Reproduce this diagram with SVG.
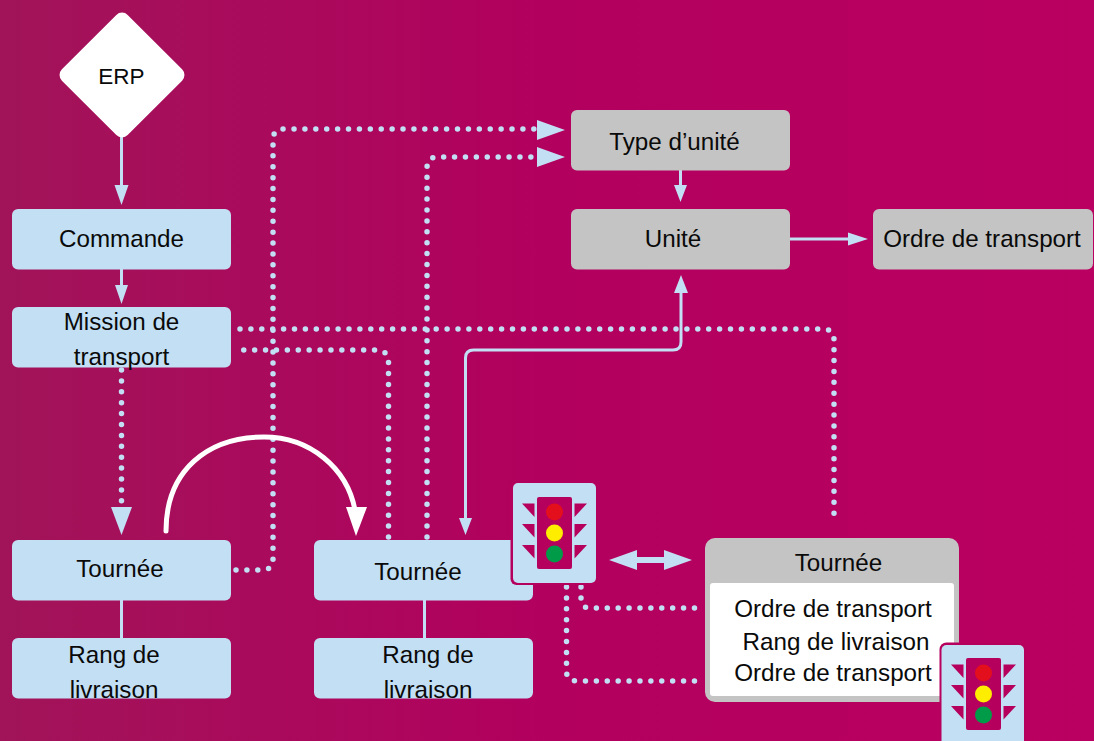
<svg xmlns="http://www.w3.org/2000/svg" width="1094" height="741" viewBox="0 0 1094 741">
<style>
.blue{fill:#c2dff4}
.grey{fill:#c4c4c4}
text{font-family:"Liberation Sans",Arial,sans-serif;font-size:24.200px;fill:#0a0a0a;text-anchor:middle}
.dot{fill:none;stroke:#c2dff4;stroke-width:5.500;stroke-linecap:round;stroke-dasharray:0 10.900}
.line{fill:none;stroke:#c2dff4;stroke-width:3}
.head{fill:#c2dff4}
.tl{fill:#b5005e}
</style>
<defs>
<linearGradient id="bg" x1="0" x2="1" y1="0" y2="0">
<stop offset="0" stop-color="#a11459"/><stop offset="0.5" stop-color="#b2005e"/><stop offset="1" stop-color="#ba0060"/>
</linearGradient>
<g id="light">
<rect x="24" y="13" width="35" height="72" rx="2" class="tl"/>
<circle cx="41.500" cy="28" r="8.500" fill="#e30f1c"/>
<circle cx="41.500" cy="49" r="8.500" fill="#ffed00"/>
<circle cx="41.500" cy="70" r="8.500" fill="#009b48"/>
<path class="tl" d="M9 19.500H21.500V33ZM9 40H21.500V53.500ZM9 61H21.500V74.500ZM74 19.500H61.500V33ZM74 40H61.500V53.500ZM74 61H61.500V74.500Z"/>
</g>
</defs>
<rect width="1094" height="741" fill="url(#bg)"/>

<g id="connectors">
<path class="line" d="M121.500 135V186M121.500 268V293M680.500 170V188M790 239H850"/>
<path class="head" d="M114.500 185H128.500L121.500 205ZM115 285H128L121.500 304ZM674 185H687L680.500 202ZM848 232.500 868 239 848 245.500Z"/>
<path class="line" d="M465.500 520V358Q465.500 350 473.500 350H673Q681 350 681 342V290"/>
<path class="head" d="M459 518H472L465.500 535ZM674 293 681 275 688 293Z"/>
<path class="dot" d="M121.500 370V501M236 570H262Q273 570 273 559V140Q273 129 284 129H534M388.500 537V362Q388.500 350 376 350H240M427 537V168Q427 157 438 157H534M240 329H823Q834 329 834 340V522M566.500 587V671Q566.500 681 577 681H697"/>
<path class="dot" d="M581 587V598Q581 608 590 608H697"/>
<path class="head" d="M111 507H132L121.500 535ZM537 120 565 130 537 140ZM537 147 565 157 537 167Z"/>
<path d="M166 531C166 470 208 437 264 437C310 437 347 468 355 510" fill="none" stroke="#fff" stroke-width="5" stroke-linecap="round"/>
<path d="M346 507H367L356 536Z" fill="#fff"/>
<path class="line" d="M121.500 600V640M424.500 600V640"/>
<path d="M609 560 637 550V557H664V550L692 560 664 570V563H637V570Z" class="head"/>
</g>

<g id="erp">
<rect x="75.500" y="28.500" width="93" height="93" rx="8" fill="#fff" transform="rotate(45 122 75)"/>
<text x="121.500" y="84" style="font-size:22.500px">ERP</text>
</g>
<g id="commande"><rect class="blue" x="12" y="209" width="219" height="60.500" rx="6"/><text x="121.500" y="247">Commande</text></g>
<g id="mission"><rect class="blue" x="12" y="307" width="219" height="60.500" rx="6"/><text x="121.500" y="330">Mission de</text><text x="121.500" y="365">transport</text></g>
<g id="type-unite"><rect class="grey" x="571" y="110" width="219" height="60.500" rx="6"/><text x="674.500" y="149.500">Type d’unité</text></g>
<g id="unite"><rect class="grey" x="571" y="209" width="219" height="60.500" rx="6"/><text x="673" y="247">Unité</text></g>
<g id="ordre"><rect class="grey" x="873" y="209" width="220" height="60.500" rx="6"/><text x="982" y="247">Ordre de transport</text></g>
<g id="tournee-1"><rect class="blue" x="12" y="540" width="219" height="60.500" rx="6"/><text x="120" y="577">Tournée</text></g>
<g id="tournee-2"><rect class="blue" x="314" y="540" width="219" height="60.500" rx="6"/><text x="418" y="580">Tournée</text></g>
<g id="rang-1"><rect class="blue" x="12" y="638" width="219" height="60.500" rx="6"/><text x="114" y="663">Rang de</text><text x="114" y="698">livraison</text></g>
<g id="rang-2"><rect class="blue" x="314" y="638" width="219" height="60.500" rx="6"/><text x="428" y="663">Rang de</text><text x="428" y="698">livraison</text></g>
<g id="tournee-detail">
<rect class="grey" x="705" y="538" width="254" height="164" rx="10"/>
<rect x="710" y="583" width="244" height="113" rx="3" fill="#fff"/>
<text x="838.500" y="571">Tournée</text>
<text x="833" y="617">Ordre de transport</text>
<text x="836" y="650">Rang de livraison</text>
<text x="833" y="681">Ordre de transport</text>
</g>
<g id="feu-1">
<rect x="510.500" y="482.500" width="85.500" height="102.500" rx="6" class="tl"/>
<rect x="513" y="483" width="83" height="100" rx="5" class="blue"/>
<use href="#light" x="513" y="484"/>
</g>
<g id="feu-2">
<rect x="939.500" y="642.500" width="86.500" height="104" rx="7" class="tl"/>
<rect x="941.500" y="645" width="82.500" height="102" rx="5" class="blue"/>
<use href="#light" x="942" y="645"/>
</g>
</svg>
